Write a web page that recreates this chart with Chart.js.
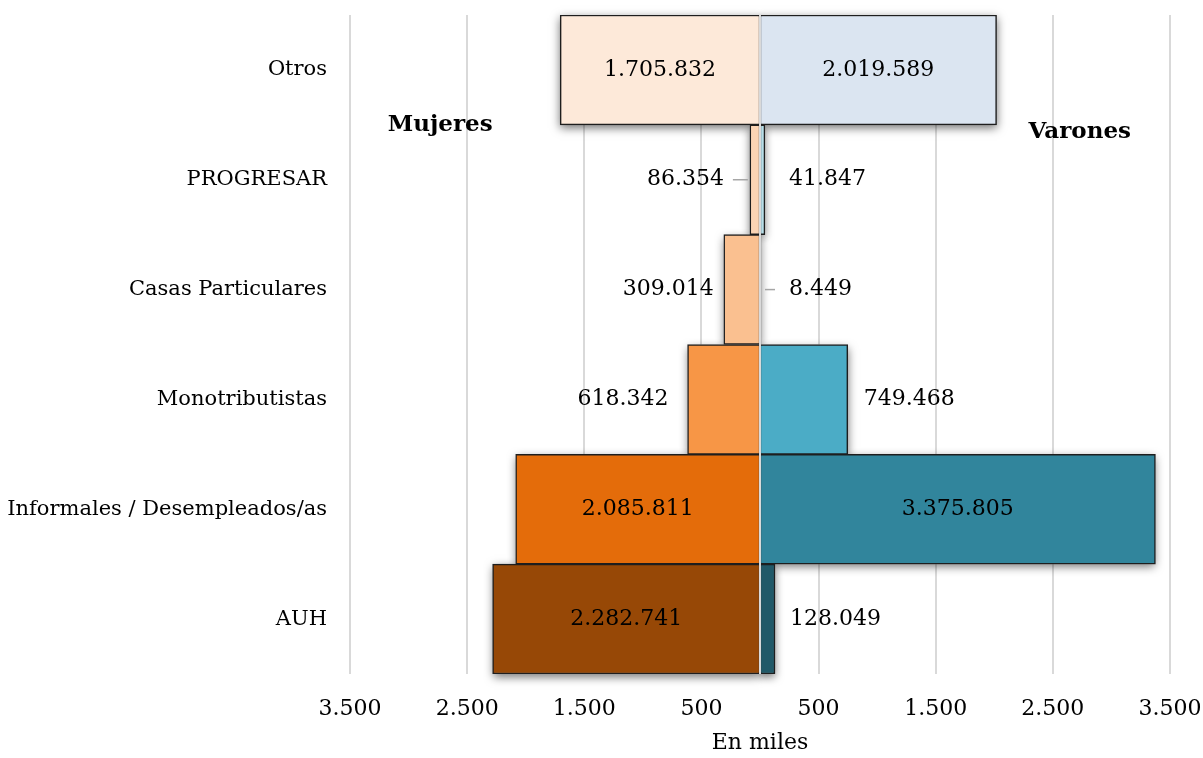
<!DOCTYPE html>
<html lang="es">
<head>
<meta charset="utf-8">
<script src="https://cdn.jsdelivr.net/npm/chart.js@4/dist/chart.umd.min.js"></script>
<style>
  html, body { margin: 0; padding: 0; background: #fff; }
  #wrap { width: 1203px; height: 758px; }
</style>
</head>
<body>
<div id="wrap"><canvas id="piramide"></canvas></div>
<script>
// categorias (de arriba hacia abajo)
const categorias = ['Otros', 'PROGRESAR', 'Casas Particulares', 'Monotributistas', 'Informales / Desempleados/as', 'AUH'];
// valores en miles
const mujeres = [1705.832, 86.354, 309.014, 618.342, 2085.811, 2282.741];
const varones = [2019.589, 41.847, 8.449, 749.468, 3375.805, 128.049];
const ejeMin = -3500;
const ejeMax = 3500;
const ejePaso = 1000;

const coloresMujeres = ['#FDE9D9', '#FBD4B4', '#FAC090', '#F79646', '#E46C0A', '#974806'];
const coloresVarones = ['#DBE5F1', '#B7DEE8', '#92CDDC', '#4BACC6', '#31859C', '#215968'];

const FUENTE = '"DejaVu Serif", "Liberation Serif", serif';

// formato 1.705.832
function miles(v) {
    const n = Math.round(Math.abs(v) * 1000).toString();
    return n.replace(/\B(?=(\d{3})+(?!\d))/g, '.');
}
function ejeTxt(v) {
    return Math.abs(v).toString().replace(/\B(?=(\d{3})+(?!\d))/g, '.');
}

// donde va cada etiqueta: 'in' = centrada, numero = separacion fuera de la barra
const ubicacion = [
    ['in', 26, 10, 19, 'in', 'in'],
    ['in', 24, 28, 16, 'in', 15]
];
const guias = [[1], [2]]; // lineas guia

// la barra con borde recorta su propia sombra, asi que la sombra va antes
const sombra = {
    id: 'sombra',
    beforeDatasetsDraw(chart) {
        const ctx = chart.ctx;
        ctx.save();
        ctx.shadowColor = 'rgba(0,0,0,0.55)';
        ctx.shadowBlur = 9;
        ctx.shadowOffsetX = 0;
        ctx.shadowOffsetY = 3;
        ctx.fillStyle = '#fff';
        chart.data.datasets.forEach((ds, i) => {
            chart.getDatasetMeta(i).data.forEach(bar => {
                const p = bar.getProps(['x', 'y', 'base', 'height'], true);
                const left = Math.min(p.x, p.base);
                const w = Math.abs(p.x - p.base);
                ctx.fillRect(left, p.y - p.height / 2, w, p.height);
            });
        });
        ctx.restore();
    }
};

const etiquetas = {
    id: 'etiquetas',
    afterDatasetsDraw(chart) {
        const ctx = chart.ctx;
        const xs = chart.scales.x;
        const ys = chart.scales.y;
        const area = chart.chartArea;

        // linea central
        const x0 = xs.getPixelForValue(0);
        ctx.save();
        ctx.strokeStyle = '#D9D9D9';
        ctx.lineWidth = 2;
        ctx.beginPath();
        ctx.moveTo(x0, area.top);
        ctx.lineTo(x0, area.bottom);
        ctx.stroke();

        ctx.font = '22px ' + FUENTE;
        ctx.fillStyle = '#000';
        ctx.textBaseline = 'middle';
        chart.data.datasets.forEach((ds, i) => {
            const meta = chart.getDatasetMeta(i);
            meta.data.forEach((bar, j) => {
                const v = ds.data[j];
                const lugar = ubicacion[i][j];
                const txt = miles(v);
                if (lugar === 'in') {
                    ctx.textAlign = 'center';
                    ctx.fillText(txt, (bar.x + bar.base) / 2, bar.y);
                } else if (i === 0) {
                    ctx.textAlign = 'right';
                    ctx.fillText(txt, bar.x - lugar, bar.y);
                } else {
                    ctx.textAlign = 'left';
                    ctx.fillText(txt, bar.x + lugar, bar.y);
                }
                if (guias[i].includes(j)) {
                    ctx.strokeStyle = '#A6A6A6';
                    ctx.lineWidth = 1.5;
                    ctx.beginPath();
                    if (i === 0) {
                        ctx.moveTo(bar.x - 2, bar.y);
                        ctx.lineTo(bar.x - 17, bar.y);
                    } else {
                        ctx.moveTo(bar.x + 4, bar.y);
                        ctx.lineTo(bar.x + 14, bar.y);
                    }
                    ctx.stroke();
                }
            });
        });

        ctx.font = 'bold 23px ' + FUENTE;
        ctx.textAlign = 'center';
        ctx.fillText('Mujeres', xs.getPixelForValue(-2730), ys.getPixelForValue(0.5));
        ctx.fillText('Varones', xs.getPixelForValue(2730), ys.getPixelForValue(0.57));
        ctx.restore();
    }
};

new Chart(document.getElementById('piramide'), {
    type: 'bar',
    data: {
        labels: categorias,
        datasets: [
            {
                label: 'Mujeres',
                data: mujeres.map(v => -v),
                backgroundColor: coloresMujeres,
                borderColor: '#1E1E1E',
                borderWidth: 1.5,
                borderSkipped: false
            },
            {
                label: 'Varones',
                data: varones,
                backgroundColor: coloresVarones,
                borderColor: '#1E1E1E',
                borderWidth: 1.5,
                borderSkipped: false
            }
        ]
    },
    options: {
        indexAxis: 'y',
        responsive: true,
        maintainAspectRatio: false,
        animation: false,
        barPercentage: 1,
        categoryPercentage: 1,
        layout: { padding: { left: 0, right: 33, top: 15, bottom: 0 } },
        plugins: {
            legend: { display: false },
            tooltip: { enabled: false }
        },
        scales: {
            x: {
                stacked: true,
                min: ejeMin,
                max: ejeMax,
                afterFit: s => { s.height = 84; s.paddingLeft = 0; s.paddingRight = 0; },
                grid: { color: '#D9D9D9', lineWidth: 2, drawTicks: false },
                border: { display: false },
                ticks: {
                    stepSize: ejePaso,
                    padding: 22,
                    color: '#000',
                    font: { family: FUENTE, size: 22 },
                    callback: v => ejeTxt(v)
                },
                title: {
                    display: true,
                    text: 'En miles',
                    color: '#000',
                    font: { family: FUENTE, size: 22 },
                    padding: { top: 4, bottom: 2 }
                }
            },
            y: {
                stacked: true,
                afterFit: s => { s.width = 350; s.paddingTop = 0; s.paddingBottom = 0; },
                grid: { display: false, drawTicks: false },
                border: { display: false },
                ticks: {
                    padding: 23,
                    color: '#000',
                    font: { family: FUENTE, size: 21 }
                }
            }
        }
    },
    plugins: [sombra, etiquetas]
});
</script>
</body>
</html>
